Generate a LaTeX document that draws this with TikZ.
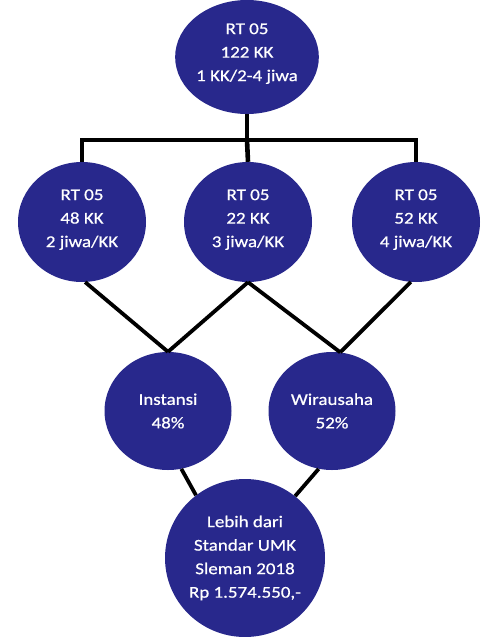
\documentclass[tikz,border=0pt]{standalone}
\usepackage{fontspec}
\setmainfont{Carlito}[FakeStretch=1.15,FakeBold=0.6]
\usetikzlibrary{shapes.geometric}
\definecolor{nodeblue}{RGB}{40,40,140}
\begin{document}
\begin{tikzpicture}[x=1pt,y=-1pt,
  bub/.style={ellipse, fill=nodeblue, text=white, inner sep=0pt, align=center,
    font=\fontsize{16.5}{23.5}\selectfont},
  tree/.style={line width=4.6pt, black, line join=miter},
  link/.style={line width=3.8pt, black}]
\useasboundingbox (0,0) rectangle (495,637);
\node[bub, minimum width=128pt, minimum height=114pt] (top) at (247,57) {RT 05\\122 KK\\1 KK/2-4 jiwa\\[-14pt]\mbox{}};
\node[bub, minimum width=128pt, minimum height=120pt] (lft) at (82,222) {RT 05\\48 KK\\2 jiwa/KK\\[-16pt]\mbox{}};
\node[bub, minimum width=128pt, minimum height=120pt] (mid) at (248,222) {RT 05\\22 KK\\3 jiwa/KK\\[-16pt]\mbox{}};
\node[bub, minimum width=128pt, minimum height=120pt] (rgt) at (416,222) {RT 05\\52 KK\\4 jiwa/KK\\[-16pt]\mbox{}};
\node[bub, minimum width=127pt, minimum height=118pt] (ins) at (168,411) {Instansi\\48\%};
\node[bub, minimum width=127pt, minimum height=118pt] (wir) at (332,411) {Wirausaha\\52\%};
\node[bub, minimum width=160pt, minimum height=158pt] (bot) at (245,558) {Lebih dari\\Standar UMK\\Sleman 2018\\Rp 1.574.550,-};
\coordinate (bar) at (247,140);
\draw[tree] (top.south) -- (bar);
\draw[tree] (lft.north) |- (bar) -| (rgt.north);
\draw[tree] (bar) -- (mid.north);
\draw[link] (lft.-87) -- (ins.north);
\draw[link] (mid.south) -- (ins.north);
\draw[link] (mid.south) -- (wir.82);
\draw[link] (rgt.-95) -- (wir.82);
\draw[link] (ins.-77) -- (bot.128);
\draw[link] (wir.-103) -- (bot.51);
\end{tikzpicture}
\end{document}
